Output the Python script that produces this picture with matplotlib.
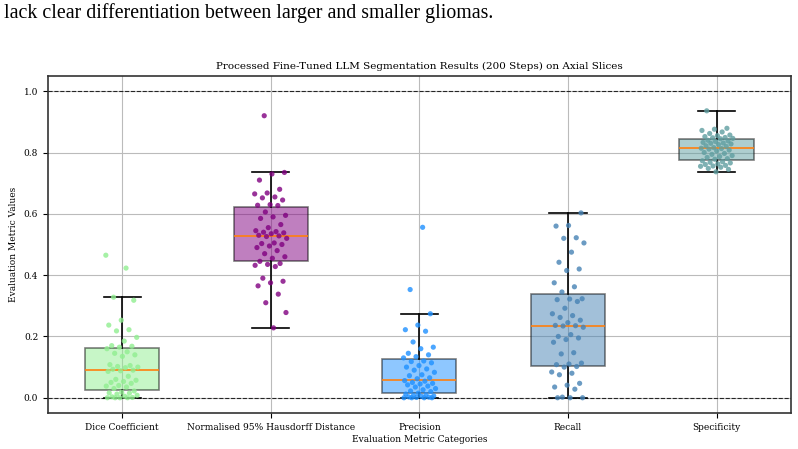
import numpy as np
import matplotlib
matplotlib.use("Agg")
import matplotlib.pyplot as plt

categories = ["Dice Coefficient", "Normalised 95% Hausdorff Distance",
              "Precision", "Recall", "Specificity"]
colors = ["lightgreen", "purple", "dodgerblue", "steelblue", "cadetblue"]

dice = [0.465, 0.423, 0.328, 0.318, 0.253, 0.237, 0.222, 0.218, 0.197, 0.185, 0.170, 0.168, 0.165,
        0.160, 0.150, 0.145, 0.140, 0.135, 0.108, 0.105, 0.102, 0.100, 0.098, 0.093, 0.090,
        0.088, 0.086, 0.070, 0.060, 0.057, 0.053, 0.050, 0.047, 0.040, 0.038, 0.035, 0.030,
        0.022, 0.018, 0.016, 0.015, 0.012, 0.008, 0.005, 0.003, 0.001, 0.0, 0.0, 0.0, 0.0]
hausdorff = [0.92, 0.735, 0.73, 0.71, 0.68, 0.668, 0.665, 0.655, 0.652, 0.645, 0.63, 0.628, 0.627,
             0.606, 0.595, 0.59, 0.585, 0.565, 0.555, 0.545, 0.542, 0.540, 0.538, 0.535, 0.530,
             0.528, 0.526, 0.52, 0.505, 0.503, 0.50, 0.495, 0.49, 0.48, 0.47, 0.46, 0.455,
             0.445, 0.438, 0.435, 0.432, 0.428, 0.39, 0.38, 0.375, 0.365, 0.338, 0.31, 0.278, 0.228]
precision = [0.556, 0.353, 0.274, 0.237, 0.222, 0.217, 0.182, 0.165, 0.160, 0.145, 0.140, 0.134, 0.13,
             0.12, 0.118, 0.114, 0.105, 0.1, 0.094, 0.09, 0.083, 0.075, 0.072, 0.065, 0.062,
             0.056, 0.054, 0.05, 0.047, 0.045, 0.042, 0.038, 0.035, 0.03, 0.026, 0.022, 0.02,
             0.015, 0.012, 0.01, 0.008, 0.006, 0.005, 0.003, 0.002, 0.001, 0.0, 0.0, 0.0, 0.0]
recall = [0.603, 0.562, 0.56, 0.522, 0.52, 0.505, 0.475, 0.442, 0.42, 0.415, 0.375, 0.362, 0.345,
          0.323, 0.322, 0.32, 0.314, 0.292, 0.274, 0.268, 0.262, 0.253, 0.245, 0.236, 0.235,
          0.234, 0.23, 0.206, 0.2, 0.195, 0.19, 0.181, 0.147, 0.143, 0.113, 0.11, 0.108,
          0.102, 0.1, 0.084, 0.08, 0.075, 0.047, 0.041, 0.035, 0.028, 0.002, 0.0, 0.0, 0.0]
specificity = [0.936, 0.879, 0.876, 0.872, 0.867, 0.862, 0.857, 0.855, 0.852, 0.849, 0.848, 0.846, 0.845,
               0.840, 0.838, 0.836, 0.833, 0.831, 0.83, 0.828, 0.826, 0.822, 0.82, 0.816, 0.814,
               0.813, 0.811, 0.808, 0.805, 0.80, 0.797, 0.794, 0.79, 0.787, 0.784, 0.78, 0.778,
               0.773, 0.77, 0.768, 0.766, 0.763, 0.761, 0.758, 0.756, 0.755, 0.752, 0.748, 0.745, 0.737]

data = [dice, hausdorff, precision, recall, specificity]

plt.rcParams["font.family"] = "DejaVu Serif"

fig = plt.figure(figsize=(7.98, 4.49), dpi=100)
fig.text(0.005, 0.972, "lack clear differentiation between larger and smaller gliomas.",
         family="Liberation Serif", fontsize=14.3, va="center", ha="left")

ax = fig.add_axes([0.060, 0.080, 0.931, 0.751])
positions = np.arange(len(categories))

bp = ax.boxplot(data, positions=positions, widths=0.5, patch_artist=True,
                showfliers=False,
                medianprops=dict(color="tab:orange", linewidth=1.2),
                whiskerprops=dict(color="black", linewidth=1.2),
                capprops=dict(color="black", linewidth=1.2))
for patch, c in zip(bp["boxes"], colors):
    patch.set_facecolor(c)
    patch.set_edgecolor("black")
    patch.set_linewidth(1.2)
    patch.set_alpha(0.5)

# golden-ratio jitter so the sorted points spread out sideways
for i, (vals, c) in enumerate(zip(data, colors)):
    n = len(vals)
    offs = (((np.arange(n) * 0.618034 + 0.3 * i) % 1.0) - 0.5) * 0.22
    ax.scatter(positions[i] + offs, vals, s=14, color=c, alpha=0.8, zorder=3,
               edgecolors="none")

ax.axhline(0.0, color="black", linestyle="--", linewidth=0.8, alpha=0.8)
ax.axhline(1.0, color="black", linestyle="--", linewidth=0.8, alpha=0.8)

ax.set_xlim(-0.5, 4.5)
ax.set_ylim(-0.05, 1.05)
ax.set_xticks(positions)
ax.set_xticklabels(categories)
ax.set_yticks([0.0, 0.2, 0.4, 0.6, 0.8, 1.0])
ax.tick_params(labelsize=6.5)
ax.grid(True, color="#bbbbbb", linewidth=0.8)
ax.set_axisbelow(True)
for sp in ax.spines.values():
    sp.set_color("#333333")
    sp.set_linewidth(1.2)

ax.set_title("Processed Fine-Tuned LLM Segmentation Results (200 Steps) on Axial Slices",
             fontsize=7.5, pad=5)
ax.set_xlabel("Evaluation Metric Categories", fontsize=6.5, labelpad=2)
ax.set_ylabel("Evaluation Metric Values", fontsize=6.5, labelpad=4)

fig.savefig("out.png", dpi=100)
